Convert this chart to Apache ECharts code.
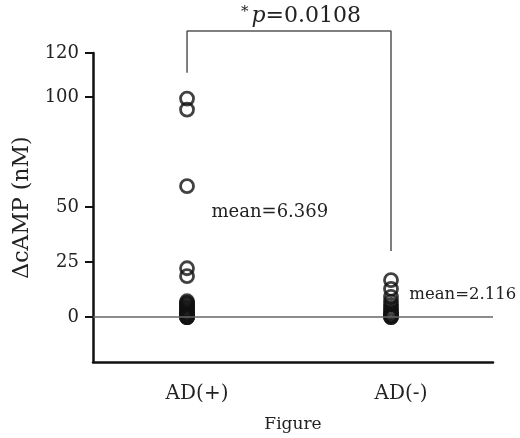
<!DOCTYPE html>
<html>
<head>
<meta charset="utf-8">
<script src="https://cdn.jsdelivr.net/npm/echarts@6/dist/echarts.min.js"></script>
<style>html,body{margin:0;padding:0;background:#fff;}#c{width:520px;height:438px;}</style>
</head>
<body>
<div id="c"></div>
<script>
var categories = ['AD(+)', 'AD(-)'];
var yTicks = [0, 25, 50, 100, 120];
var adPlus = [99.3, 94.3, 59.5, 22.2, 18.6, 7.2, 6.5, 6, 5.2, 4.5, 4, 3.3, 2.8, 2.2, 1.6, 1.2, 0.8, 0.5, 0.3, 0, 0, 0];
var adMinus = [16.8, 12.8, 9.2, 7, 5.5, 4.2, 3, 2.2, 1.4, 0.8, 0.4, 0, 0];
var meanLabels = ['mean=6.369', 'mean=2.116'];
var meanLabelPos = [[1.12, 47.5], [2.09, 10]];
var bracketX = [1, 1, 2, 2];
var bracketY = [111, 130, 130, 30];
var pText = '0.0108';

var serif = '"DejaVu Serif", "Liberation Serif", serif';
var meanFont = [18, 16.5];
var chart = echarts.init(document.getElementById('c'), null, {renderer: 'canvas'});

function pts(cat, arr) { return arr.map(function (v) { return [cat, v]; }); }

var scatterStyle = {color: 'transparent', borderColor: '#111', borderWidth: 2.8};
function meanMark(i) {
  return {
    silent: true,
    symbol: 'circle', symbolSize: 0,
    data: [{coord: meanLabelPos[i]}],
    label: {show: true, formatter: meanLabels[i], position: 'right', distance: 0,
      fontFamily: serif, fontSize: meanFont[i], color: '#222'}
  };
}

chart.setOption({
  animation: false,
  backgroundColor: '#fff',
  title: {
    text: '{s|*}{i|p}{n|=' + pText + '}',
    left: 236, top: 0,
    textStyle: {
      fontWeight: 'normal',
      rich: {
        s: {fontFamily: serif, fontSize: 15, fontWeight: 'normal', color: '#222', verticalAlign: 'top', padding: [0, 3, 6, 0]},
        i: {fontFamily: serif, fontSize: 22, fontWeight: 'normal', fontStyle: 'italic', color: '#222'},
        n: {fontFamily: serif, fontSize: 22, fontWeight: 'normal', color: '#222'}
      }
    }
  },
  grid: {left: 93, right: 27, top: 53, bottom: 75},
  xAxis: {
    type: 'value', min: 0.539, max: 2.5,
    name: 'Figure', nameLocation: 'middle', nameGap: 54,
    nameTextStyle: {fontFamily: serif, fontSize: 17, color: '#222'},
    axisLine: {show: true, onZero: false, lineStyle: {color: '#111', width: 2.5}},
    axisTick: {show: false},
    splitLine: {show: false},
    axisLabel: {
      customValues: [1, 2],
      formatter: function (v) { return categories[Math.round(v) - 1]; },
      fontFamily: serif, fontSize: 20, color: '#222', margin: 22,
      padding: [0, 0, 0, 20]
    }
  },
  yAxis: {
    type: 'value', min: -20.4, max: 120,
    name: '\u0394cAMP (nM)', nameLocation: 'middle', nameGap: 55, nameRotate: 90,
    nameTextStyle: {fontFamily: serif, fontSize: 22, color: '#222'},
    axisLine: {show: true, lineStyle: {color: '#111', width: 2.5}},
    axisTick: {show: true, customValues: yTicks, length: 8, lineStyle: {color: '#111', width: 2}},
    splitLine: {show: false},
    axisLabel: {customValues: yTicks, fontFamily: serif, fontSize: 18, color: '#222', margin: 14}
  },
  series: [
    {
      type: 'scatter', data: pts(1, adPlus), symbol: 'circle', symbolSize: 13,
      itemStyle: scatterStyle, silent: true,
      markLine: {
        silent: true, symbol: 'none', label: {show: false},
        lineStyle: {color: '#666', width: 1.5, type: 'solid'},
        data: [{yAxis: 0}]
      },
      markPoint: meanMark(0)
    },
    {
      type: 'scatter', data: pts(2, adMinus), symbol: 'circle', symbolSize: 13,
      itemStyle: scatterStyle, silent: true,
      markPoint: meanMark(1)
    },
    {
      type: 'line', clip: false, silent: true, symbol: 'none',
      data: bracketX.map(function (x, i) { return [x, bracketY[i]]; }),
      lineStyle: {color: '#555', width: 1.5}
    }
  ]
});
</script>
</body>
</html>
